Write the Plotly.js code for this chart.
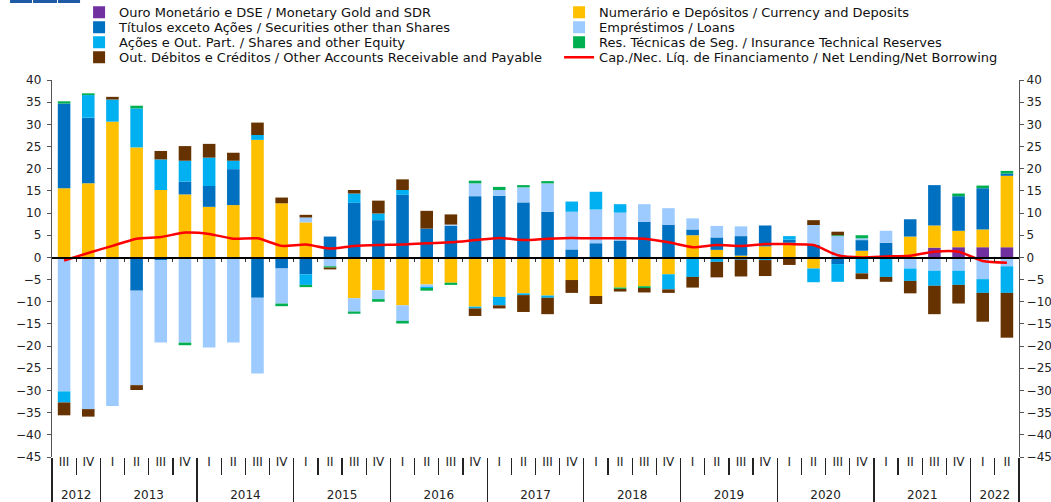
<!DOCTYPE html>
<html>
<head>
<meta charset="utf-8">
<script src="https://cdn.plot.ly/plotly-3.0.1.min.js"></script>
<style>html,body{margin:0;padding:0;background:#fff;}#chart{width:1051px;height:502px;}</style>
</head>
<body>
<div id="chart"></div>
<script>
// outer (year) and inner (quarter) category labels; the 2012 quarters carry a zero-width
// space so Plotly's multicategory ordering keeps I, II, III, IV inside every later year
const yearLabels = ['2012','2012','2013','2013','2013','2013','2014','2014','2014','2014','2015','2015','2015','2015','2016','2016','2016','2016','2017','2017','2017','2017','2018','2018','2018','2018','2019','2019','2019','2019','2020','2020','2020','2020','2021','2021','2021','2021','2022','2022'];
const quarterLabels = ['III\u200B','IV\u200B','I','II','III','IV','I','II','III','IV','I','II','III','IV','I','II','III','IV','I','II','III','IV','I','II','III','IV','I','II','III','IV','I','II','III','IV','I','II','III','IV','I','II'];

const goldSDR = [0,0,0,0,0,0,0,0,0,0, 0,0,0,0,0,0,0,0,0,0, 0,0,0,0,0,0,0,0,0,0, 0,0,0,0,0,0,2.2,2.3,2.3,2.3];
const currencyDeposits = [15.6,16.7,30.6,24.8,15.2,14.2,11.4,11.8,26.5,12.2, 7.9,0,-9.2,-7.4,-10.8,-6.1,-5.7,-11.1,-8.9,-8.1, -8.6,-5.1,-8.7,-6.8,-6.5,-3.8,5.0,1.7,0.4,2.5, 3.3,-2.5,0,1.5,0,4.7,5.0,3.7,4.0,16.1];
const securities = [19.1,14.8,0,-7.5,-0.6,2.9,4.7,8.1,-9.1,-2.5, -3.8,4.7,12.3,8.4,14.1,6.5,7.1,13.8,13.9,12.4, 10.3,1.8,3.2,3.8,8.0,7.3,1.3,2.8,4.4,4.7, 0.7,2.8,-1.5,2.4,3.3,3.9,9.1,7.8,9.3,0.5];
const loans = [-30.2,-34.2,-33.5,-21.3,-18.6,-19.2,-20.3,-19.2,-17.1,-7.9, 1.1,-2.0,-3.0,-2.0,-3.5,-0.5,0.3,2.9,1.3,3.4, 6.4,8.5,7.6,6.3,4.0,3.8,2.5,2.6,2.2,0, 0,4.5,4.8,0.4,2.7,-2.5,-3.0,-3.0,-4.9,-2.0];
const shares = [-2.5,5.1,5.0,8.8,6.9,4.7,6.4,1.9,1.1,0, -2.4,0,2.1,1.5,1.1,-0.3,0,-0.4,-1.9,-0.4, -0.5,2.3,4.0,1.9,0,-3.4,-4.4,-1.0,-0.5,-0.6, 0.8,-3.1,-4.0,-3.6,-4.4,-2.8,-3.4,-3.2,-3.1,-6.0];
const insurance = [0.5,0.4,0,0.6,0,-0.6,0,0,0,-0.6, -0.5,-0.3,-0.5,-0.6,-0.6,-0.6,-0.5,0.6,0.7,0.5, 0.5,0,0,-0.3,-0.4,0,0,0,0,0, 0,0,0.2,0.7,0,0,0,0.6,0.6,0.6];
const otherAccounts = [-2.9,-1.7,0.6,-1.1,1.9,3.3,3.1,1.8,2.8,1.3, 0.6,-0.4,0.8,2.9,2.4,4.0,2.3,-1.7,-0.7,-3.8, -3.7,-2.9,-1.8,-0.6,-1.0,-0.8,-2.4,-3.5,-3.8,-3.6, -1.7,1.1,0.8,-1.3,-1.1,-2.8,-6.4,-4.2,-6.5,-10.1];
const netLending = [-0.7,1.0,2.6,4.2,4.6,5.6,5.3,4.2,4.3,2.6, 2.9,2.0,2.6,2.8,2.9,3.2,3.4,3.9,4.4,3.9, 4.2,4.4,4.3,4.3,4.2,3.4,2.3,2.8,2.6,3.0, 3.0,2.8,0.5,0.0,0.2,0.4,1.3,1.3,-0.8,-1.2];

const seriesNames = [
  'Ouro Monetário e DSE / Monetary Gold and SDR',
  'Numerário e Depósitos / Currency and Deposits',
  'Títulos exceto Ações / Securities other than Shares',
  'Empréstimos / Loans',
  'Ações e Out. Part. / Shares and other Equity',
  'Res. Técnicas de Seg. / Insurance Technical Reserves',
  'Out. Débitos e Créditos / Other Accounts Receivable and Payable'
];
const lineName = 'Cap./Nec. Líq. de Financiamento / Net Lending/Net Borrowing';
const seriesValues = [goldSDR, currencyDeposits, securities, loans, shares, insurance, otherAccounts];
const seriesColors = ['#7030A0','#FFC000','#0070C0','#9DCBFF','#00B0F0','#00B050','#663300'];
const legendRow = ['legend','legend','legend2','legend2','legend3','legend3','legend4','legend4'];

const xcat = [yearLabels, quarterLabels];
const traces = seriesValues.map((vals, k) => ({
  type: 'bar', name: seriesNames[k], x: xcat, y: vals,
  marker: {color: seriesColors[k], line: {width: 0}},
  xaxis: 'x', yaxis: 'y', legend: legendRow[k]
}));
traces.push({
  type: 'scatter', mode: 'lines', name: lineName, x: xcat, y: netLending,
  line: {color: '#FF0000', width: 2.5, shape: 'spline', smoothing: 0.6},
  xaxis: 'x', yaxis: 'y2', legend: legendRow[7]
});
// helper so the zero-line axis (with its small boundary ticks) is drawn
traces.push({type: 'scatter', mode: 'markers', x: [0], y: [0], xaxis: 'x2', yaxis: 'y',
  marker: {opacity: 0}, showlegend: false, hoverinfo: 'skip'});

const boundaries = [];
for (let i = 0; i < yearLabels.length - 1; i++) boundaries.push(i + 0.5);

const font = 'DejaVu Sans, Liberation Sans, Arial, sans-serif';
const yTicks = [];
for (let v = -45; v <= 40; v += 5) yTicks.push(v);

const plotTop = 80, plotBottom = 457, plotH = 377;
function rowY(py) { return (plotBottom - py) / plotH; }
function legendAt(py) {
  return {orientation: 'h', x: 0.028, xanchor: 'left', y: rowY(py), yanchor: 'middle',
    entrywidth: 435, entrywidthmode: 'pixels', traceorder: 'normal',
    font: {family: font, size: 13, color: '#111'}, bgcolor: 'rgba(0,0,0,0)', borderwidth: 0};
}

const layout = {
  width: 1051, height: 502,
  margin: {l: 52, r: 32, t: 80, b: 45, pad: 0, autoexpand: false},
  paper_bgcolor: '#fff', plot_bgcolor: '#fff',
  barmode: 'relative', bargap: 0.48,
  font: {family: font, size: 12, color: '#222'},
  showlegend: true,
  legend: legendAt(12.3), legend2: legendAt(27.3), legend3: legendAt(42.3), legend4: legendAt(57.3),
  xaxis: {type: 'multicategory', showgrid: false, zeroline: false, showline: false,
    ticks: 'outside', ticklen: 17, tickcolor: '#222', tickwidth: 1.3,
    ticklabelstandoff: -4,
    ticksuffix: '<br><span style="font-size:1px">\u00A0</span>',
    showdividers: true, dividercolor: '#222', dividerwidth: 1.3,
    tickfont: {family: font, size: 12, color: '#222'}, fixedrange: true},
  xaxis2: {overlaying: 'x', anchor: 'free', position: 45/85, range: [-0.5, 39.5],
    showgrid: false, zeroline: false, showline: true, linecolor: '#000', linewidth: 1.5,
    ticks: 'outside', ticklen: 3, tickwidth: 1, tickcolor: '#333',
    tickmode: 'array', tickvals: boundaries, showticklabels: false, fixedrange: true},
  yaxis: {range: [-45, 40], tickmode: 'array', tickvals: yTicks, showgrid: false, zeroline: false,
    showline: true, linecolor: '#555', linewidth: 1.2, ticks: 'outside', ticklen: 4, tickcolor: '#555',
    ticklabelstandoff: 3,
    tickfont: {family: font, size: 12, color: '#222'}, fixedrange: true},
  yaxis2: {overlaying: 'y', side: 'right', range: [-45, 40], tickmode: 'array', tickvals: yTicks,
    showgrid: false, zeroline: false, showline: true, linecolor: '#555', linewidth: 1.2,
    ticks: 'outside', ticklen: 4, tickcolor: '#555',
    tickfont: {family: font, size: 12, color: '#222'}, fixedrange: true},
  shapes: [
    {type: 'rect', xref: 'paper', yref: 'paper', x0: -0.0434, x1: -0.0207, y0: rowY(3), y1: rowY(-1), fillcolor: '#1F5AA6', line: {width: 0}},
    {type: 'rect', xref: 'paper', yref: 'paper', x0: -0.0196, x1: 0.0052, y0: rowY(3), y1: rowY(-1), fillcolor: '#1F5AA6', line: {width: 0}},
    {type: 'rect', xref: 'paper', yref: 'paper', x0: 0.0062, x1: 0.0290, y0: rowY(3), y1: rowY(-1), fillcolor: '#1F5AA6', line: {width: 0}}
  ]
};

Plotly.newPlot('chart', traces, layout, {displayModeBar: false, staticPlot: true});
</script>
</body>
</html>
